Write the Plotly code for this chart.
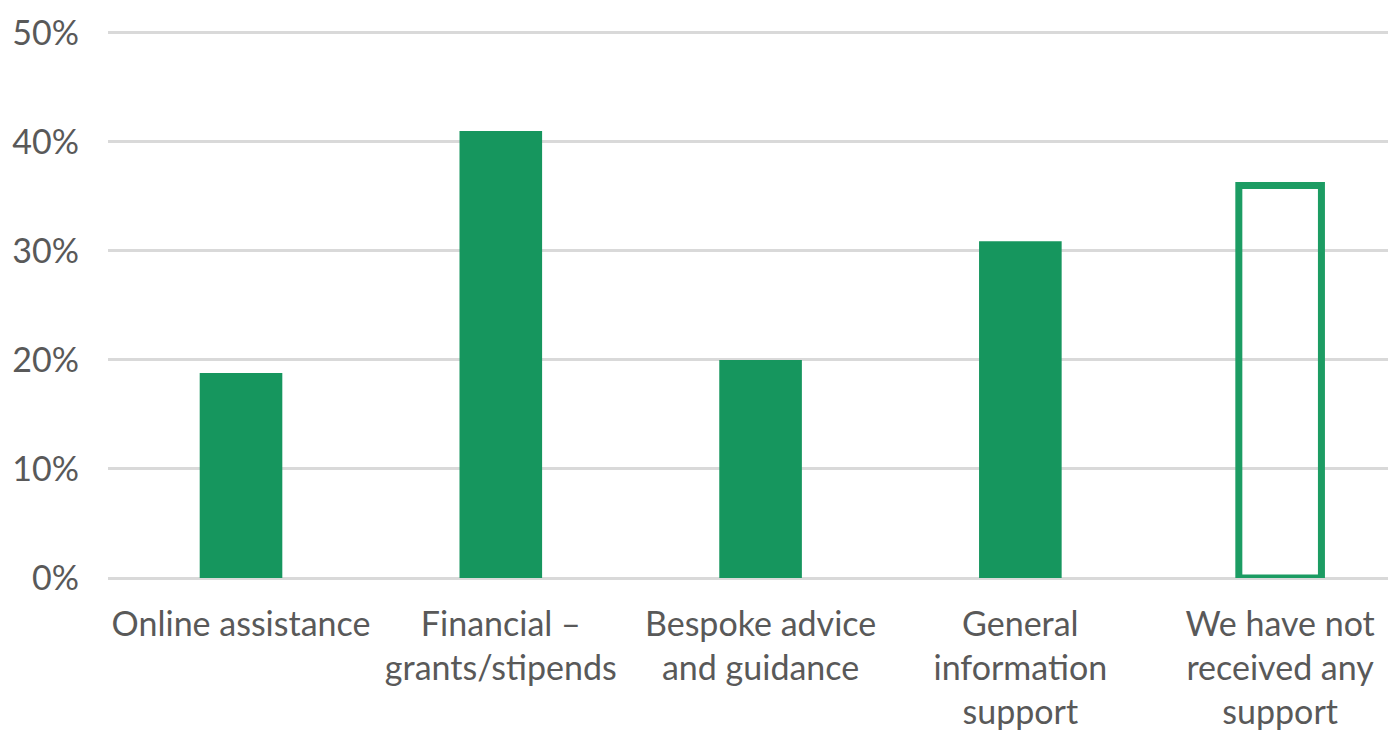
import plotly.graph_objects as go

categories = [
    "Online assistance",
    "Financial –<br>grants/stipends",
    "Bespoke advice<br>and guidance",
    "General<br>information<br>support",
    "We have not<br>received any<br>support",
]
values = [18.8, 41.0, 20.0, 30.9, 36.0]
filled = [True, True, True, True, False]
y_ticks = [0, 10, 20, 30, 40, 50]
y_tick_labels = ["0%", "10%", "20%", "30%", "40%", "50%"]

GREEN = "#16965E"

fig = go.Figure()
fig.add_trace(go.Bar(
    x=list(range(len(categories))),
    y=values,
    width=0.318,
    marker=dict(
        color=[GREEN if f else "rgba(255,255,255,0)" for f in filled],
        line=dict(color=[GREEN if f else "#1C9C63" for f in filled],
                  width=[0 if f else 7 for f in filled]),
    ),
    hoverinfo="skip",
))

fig.update_layout(
    width=1388, height=723,
    margin=dict(l=100, r=0, t=14, b=153),
    paper_bgcolor="white", plot_bgcolor="white",
    showlegend=False,
    font=dict(family="Lato", color="#595959", size=34),
    xaxis=dict(
        range=[-0.512, 4.446],
        tickmode="array",
        tickvals=list(range(len(categories))),
        ticktext=categories,
        showgrid=False, zeroline=False, showline=False,
        ticks="", ticklabelstandoff=23,
        tickfont=dict(size=34, family="Lato", color="#595959"),
    ),
    yaxis=dict(
        range=[0, 51],
        tickmode="array",
        tickvals=y_ticks,
        ticktext=y_tick_labels,
        showgrid=True, gridcolor="#D9D9D9", gridwidth=2.5,
        zeroline=True, zerolinecolor="#D9D9D9", zerolinewidth=2.5,
        showline=False, ticks="", ticklabelstandoff=28,
        tickfont=dict(size=34, family="Lato", color="#595959"),
    ),
)

fig.write_html("out.html")
